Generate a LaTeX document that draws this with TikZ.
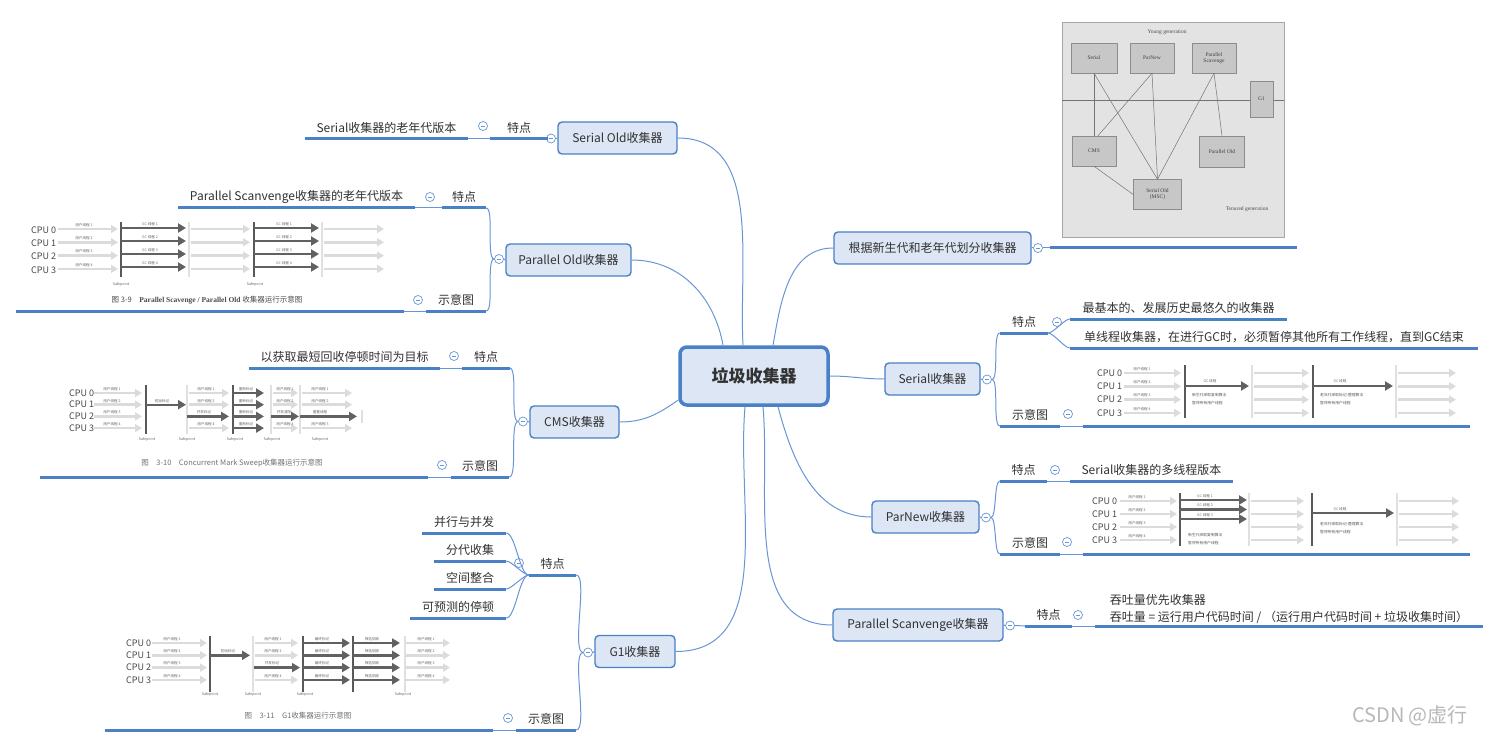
\documentclass[tikz,border=0pt]{standalone}
\usepackage{fontspec}
\usepackage{xcolor}
\usepackage{tikz}
\usetikzlibrary{arrows.meta, positioning, calc}
\setmainfont{Noto Sans CJK SC}
\newfontfamily\diaserif{Liberation Serif}
\definecolor{mapblue}{RGB}{74, 128, 197}
\definecolor{linkblue}{RGB}{104, 150, 212}
\definecolor{boxfill}{RGB}{220, 230, 244}
\definecolor{textgray}{RGB}{50, 50, 50}

\tikzset{
  rootbox/.style={draw=mapblue, line width=3.5pt, fill=boxfill, rounded corners=7pt,
    minimum width=148pt, minimum height=58pt, inner sep=0pt,
    font=\fontsize{17}{17}\selectfont\bfseries, text=textgray},
  collbox/.style={draw=mapblue, line width=1.4pt, fill=boxfill, rounded corners=4pt,
    minimum height=32pt, inner sep=0pt, font=\fontsize{12}{12}\selectfont, text=textgray},
  topic/.style={anchor=south, minimum height=22pt, inner sep=0pt,
    font=\fontsize{12}{12}\selectfont, text=textgray},
  uline/.style={draw=mapblue, line width=3pt},
  mlink/.style={draw=linkblue, line width=1pt},
  fold/.style={circle, draw=linkblue, fill=white, line width=.7pt, minimum size=9pt, inner sep=0pt,
    path picture={\draw[linkblue, line width=.7pt]
      ([xshift=-2.3pt]path picture bounding box.center) -- ([xshift=2.3pt]path picture bounding box.center);}},
  cpu/.style={anchor=west, inner sep=0pt, font=\fontsize{9}{9}\selectfont, text=black!72},
  lbl/.style={inner sep=0pt, font=\fontsize{3.6}{4}\selectfont, text=black!60},
  dnote/.style={anchor=west, inner sep=0pt, font=\fontsize{3.8}{4}\selectfont, text=black!65},
  capt/.style={inner sep=0pt, font=\fontsize{7.5}{8}\selectfont, text=black!55},
  uarr/.style={draw=black!14, line width=2.6pt, -{Triangle[length=7pt, width=8pt]}},
  garr/.style={draw=black!62, line width=2.4pt, -{Triangle[length=8pt, width=9pt]}},
  dbar/.style={draw=black!65, line width=2.6pt},
  lbar/.style={draw=black!12, line width=2.6pt},
  gbox/.style={draw=black!45, fill=black!22, line width=.5pt, inner sep=0pt, align=center,
    font=\diaserif\fontsize{5.5}{6}\selectfont, text=black!75},
}

\begin{document}
\begin{tikzpicture}[x=1pt, y=-1pt]
  \path[use as bounding box, fill=white] (0,0) rectangle (1500,746);

  % 中心主题
  \node[rootbox] (root) at (754,376) {垃圾收集器};

  % 一级主题
  \node[collbox, minimum width=119pt] (sold)   at (617.5,138) {Serial Old收集器};
  \node[collbox, minimum width=125pt] (pold)   at (568.5,260) {Parallel Old收集器};
  \node[collbox, minimum width=89pt]  (cms)    at (574.5,422) {CMS收集器};
  \node[collbox, minimum width=80pt]  (g1)     at (635,651.5) {G1收集器};
  \node[collbox, minimum width=197pt] (split)  at (932.5,248) {根据新生代和老年代划分收集器};
  \node[collbox, minimum width=95pt]  (serial) at (932.5,379) {Serial收集器};
  \node[collbox, minimum width=107pt] (parnew) at (925.5,517) {ParNew收集器};
  \node[collbox, minimum width=170pt] (ps)     at (918,625) {Parallel Scanvenge收集器};

  \draw[mlink] (sold.east) to[out=0, in=93] ([xshift=-11pt]root.north);
  \draw[mlink] (pold.east) to[out=0, in=100] ([xshift=-31pt]root.north);
  \draw[mlink] (cms.east) to[out=0, in=215] ([yshift=-24pt]root.west);
  \draw[mlink] (g1.east) to[out=0, in=-95] ([xshift=-9pt]root.south);
  \draw[mlink] (split.west) to[out=180, in=80] ([xshift=19pt]root.north);
  \draw[mlink] (root.east) to[out=0, in=180] (serial.west);
  \draw[mlink] ([xshift=24pt]root.south) to[out=-75, in=180] (parnew.west);
  \draw[mlink] ([xshift=9pt]root.south) to[out=-85, in=180] (ps.west);

  % Serial Old
  \node[fold] (sold-c) at (551,138.5) {};
  \node[topic, minimum width=58pt]  (sold-f)  at (519,139) {特点};
  \node[fold] (sold-fc) at (483,126) {};
  \node[topic, minimum width=163pt] (sold-f1) at (386.5,139) {Serial收集器的老年代版本};
  \draw[mlink] (sold.west) -- (sold-c.east);
  \draw[mlink] (sold-c.west) -- (sold-f.south east);
  \draw[mlink] (sold-f.south west) -- (sold-f1.south east);

  % Parallel Old
  \node[fold] (pold-c) at (499,259) {};
  \node[topic, minimum width=44pt]  (pold-f)  at (464,208) {特点};
  \node[fold] (pold-fc) at (430,197) {};
  \node[topic, minimum width=237pt] (pold-f1) at (296.5,208) {Parallel Scanvenge收集器的老年代版本};
  \node[topic, minimum width=60pt]  (pold-d)  at (456,311) {示意图};
  \node[fold] (pold-dc) at (418,300) {};
  \node[topic, minimum width=388pt, minimum height=92pt] (pold-img) at (210,311) {};
  \draw[mlink] (pold.west) -- (pold-c.east);
  \draw[mlink] (pold-c.west) to[out=180, in=0, looseness=.4] (pold-f.south east);
  \draw[mlink] (pold-c.west) to[out=180, in=0, looseness=.4] (pold-d.south east);
  \draw[mlink] (pold-f.south west) -- (pold-f1.south east);
  \draw[mlink] (pold-d.south west) -- (pold-img.south east);

  % CMS
  \node[fold] (cms-c) at (523,421.5) {};
  \node[topic, minimum width=47pt]  (cms-f)  at (486,368) {特点};
  \node[fold] (cms-fc) at (454,356) {};
  \node[topic, minimum width=191pt] (cms-f1) at (344.5,368) {以获取最短回收停顿时间为目标};
  \node[topic, minimum width=58pt]  (cms-d)  at (480,477) {示意图};
  \node[fold] (cms-dc) at (442,465) {};
  \node[topic, minimum width=388pt, minimum height=92pt] (cms-img) at (234,477) {};
  \draw[mlink] (cms.west) -- (cms-c.east);
  \draw[mlink] (cms-c.west) to[out=180, in=0, looseness=.4] (cms-f.south east);
  \draw[mlink] (cms-c.west) to[out=180, in=0, looseness=.4] (cms-d.south east);
  \draw[mlink] (cms-f.south west) -- (cms-f1.south east);
  \draw[mlink] (cms-d.south west) -- (cms-img.south east);

  % G1
  \node[fold] (g1-c) at (588,652.5) {};
  \node[topic, minimum width=47pt] (g1-f)  at (552.5,575) {特点};
  \node[fold] (g1-fc) at (519,563) {};
  \node[topic, minimum width=84pt] (g1-f1) at (464,533) {并行与并发};
  \node[topic, minimum width=72pt] (g1-f2) at (470,561) {分代收集};
  \node[topic, minimum width=72pt] (g1-f3) at (470,589) {空间整合};
  \node[topic, minimum width=96pt] (g1-f4) at (458,618) {可预测的停顿};
  \node[topic, minimum width=60pt] (g1-d)  at (546,730) {示意图};
  \node[fold] (g1-dc) at (508,718) {};
  \node[topic, minimum width=388pt, minimum height=105pt] (g1-img) at (299,730) {};
  \draw[mlink] (g1.west) -- (g1-c.east);
  \draw[mlink] (g1-c.west) to[out=180, in=0, looseness=.4] (g1-f.south east);
  \draw[mlink] (g1-c.west) to[out=180, in=0, looseness=.4] (g1-d.south east);
  \foreach \k in {1,...,4}
    \draw[mlink] (g1-f.south west) to[out=180, in=0, looseness=.5] (g1-f\k.south east);
  \draw[mlink] (g1-d.south west) -- (g1-img.south east);

  % 根据新生代和老年代划分
  \node[fold] (split-c) at (1038,248) {};
  \node[topic, minimum width=247pt, minimum height=230pt] (split-img) at (1173.5,248) {};
  \draw[mlink] (split.east) -- (split-c.west);
  \draw[mlink] (split-c.east) -- (split-img.south west);

  % Serial
  \node[fold] (serial-c) at (987,379.5) {};
  \node[topic, minimum width=48pt]  (serial-f)  at (1024,333) {特点};
  \node[fold] (serial-fc) at (1057,322) {};
  \node[topic, minimum width=217pt] (serial-f1) at (1178.5,319) {最基本的、发展历史最悠久的收集器};
  \node[topic, minimum width=408pt] (serial-f2) at (1274,348) {单线程收集器，在进行GC时，必须暂停其他所有工作线程，直到GC结束};
  \node[topic, minimum width=60pt]  (serial-d)  at (1030,426) {示意图};
  \node[fold] (serial-dc) at (1068,414) {};
  \node[topic, minimum width=387pt, minimum height=64pt] (serial-img) at (1276.5,426) {};
  \draw[mlink] (serial.east) -- (serial-c.west);
  \draw[mlink] (serial-c.east) to[out=0, in=180, looseness=.4] (serial-f.south west);
  \draw[mlink] (serial-c.east) to[out=0, in=180, looseness=.4] (serial-d.south west);
  \draw[mlink] (serial-f.south east) to[out=0, in=180, looseness=.5] (serial-f1.south west);
  \draw[mlink] (serial-f.south east) to[out=0, in=180, looseness=.5] (serial-f2.south west);
  \draw[mlink] (serial-d.south east) -- (serial-img.south west);

  % ParNew
  \node[fold] (parnew-c) at (986,517.5) {};
  \node[topic, minimum width=47pt]  (parnew-f)  at (1023.5,481) {特点};
  \node[fold] (parnew-fc) at (1055,470) {};
  \node[topic, minimum width=163pt] (parnew-f1) at (1151.5,481) {Serial收集器的多线程版本};
  \node[topic, minimum width=60pt]  (parnew-d)  at (1030,554) {示意图};
  \node[fold] (parnew-dc) at (1067,542) {};
  \node[topic, minimum width=387pt, minimum height=64pt] (parnew-img) at (1276.5,554) {};
  \draw[mlink] (parnew.east) -- (parnew-c.west);
  \draw[mlink] (parnew-c.east) to[out=0, in=180, looseness=.4] (parnew-f.south west);
  \draw[mlink] (parnew-c.east) to[out=0, in=180, looseness=.4] (parnew-d.south west);
  \draw[mlink] (parnew-f.south east) -- (parnew-f1.south west);
  \draw[mlink] (parnew-d.south east) -- (parnew-img.south west);

  % Parallel Scanvenge
  \node[fold] (ps-c) at (1010,625.5) {};
  \node[topic, minimum width=47pt] (ps-f) at (1048.5,626) {特点};
  \node[fold] (ps-fc) at (1078,615) {};
  \node[topic, minimum width=388pt, align=left, inner ysep=2pt, font=\fontsize{12}{17}\selectfont] (ps-f1) at (1289,626)
    {吞吐量优先收集器\\吞吐量 = 运行用户代码时间 / （运行用户代码时间 + 垃圾收集时间）};
  \draw[mlink] (ps.east) -- (ps-c.west);
  \draw[mlink] (ps-c.east) -- (ps-f.south west);
  \draw[mlink] (ps-f.south east) -- (ps-f1.south west);

  % 下划线
  \foreach \t in {sold-f, sold-f1, pold-f, pold-f1, pold-d, pold-img, cms-f, cms-f1, cms-d, cms-img,
                  g1-f, g1-f1, g1-f2, g1-f3, g1-f4, g1-d, g1-img, split-img, serial-f, serial-f1,
                  serial-f2, serial-d, serial-img, parnew-f, parnew-f1, parnew-d, parnew-img, ps-f, ps-f1}
    \draw[uline] (\t.south west) -- (\t.south east);

  % 示意图: Parallel Scavenge / Parallel Old
  \foreach \i/\v in {0/1, 1/2, 2/3, 3/4} {
    \node[cpu] (po-cpu\i) at (31,230+13.3*\i) {CPU \i};
    \draw[uarr] (58,229+13.3*\i) -- (118,229+13.3*\i);
    \draw[uarr] (191,229+13.3*\i) -- (250,229+13.3*\i);
    \draw[uarr] (324,229+13.3*\i) -- (384,229+13.3*\i);
    \node[lbl] (po-u\i) at (84,225+13.3*\i) {用户线程 \v};
  }
  \foreach \x in {121, 254} \draw[dbar] (\x,222) -- (\x,277);
  \foreach \x in {189, 322} \draw[lbar] (\x,222) -- (\x,277);
  \foreach \i/\v in {0/1, 1/2, 2/3, 3/4} {
    \draw[garr] (121,228+13*\i) -- (186,228+13*\i);
    \draw[garr] (254,228+13*\i) -- (319,228+13*\i);
    \node[lbl] (po-g\i) at (150,224+13*\i) {GC 线程 \v};
    \node[lbl] (po-h\i) at (284,224+13*\i) {GC 线程 \v};
  }
  \node[lbl] (po-s1) at (121,284) {Safepoint};
  \node[lbl] (po-s2) at (255,284) {Safepoint};
  \node[capt, text=black!70] (po-cap) at (207,300) {图 3-9\quad{\diaserif\bfseries Parallel Scavenge / Parallel Old} 收集器运行示意图};

  % 示意图: Concurrent Mark Sweep
  \foreach \i/\v in {0/1, 1/2, 2/3, 3/4} {
    \node[cpu] (cm-cpu\i) at (69,393+11.7*\i) {CPU \i};
    \draw[uarr] (94,393+11.7*\i) -- (142,393+11.7*\i);
    \node[lbl] (cm-u\i) at (112,389+11.7*\i) {用户线程 \v};
  }
  \foreach \i/\v in {0/1, 1/2, 3/4} {
    \draw[uarr] (189,393+11.7*\i) -- (229,393+11.7*\i);
    \draw[uarr] (273,393+11.7*\i) -- (298,393+11.7*\i);
    \node[lbl] (cm-a\i) at (206,389+11.7*\i) {用户线程 \v};
    \node[lbl] (cm-b\i) at (285,389+11.7*\i) {用户线程 \v};
  }
  \foreach \i/\v in {0/1, 1/2, 3/3} {
    \draw[uarr] (302,393+11.7*\i) -- (352,393+11.7*\i);
    \node[lbl] (cm-c\i) at (320,389+11.7*\i) {用户线程 \v};
  }
  \foreach \x in {146, 233} \draw[dbar] (\x,385) -- (\x,434);
  \foreach \x in {187, 271, 300} \draw[lbar] (\x,385) -- (\x,434);
  \draw[lbar] (362,410) -- (362,423);
  \draw[garr] (146,404.7) -- (186,404.7);
  \node[lbl] (cm-init) at (162,400.7) {初始标记};
  \draw[garr] (187,416.4) -- (229,416.4);
  \node[lbl] (cm-conc) at (204,412.4) {并发标记};
  \foreach \i in {0,...,3} {
    \draw[garr] (233,393+11.7*\i) -- (264,393+11.7*\i);
    \node[lbl] (cm-re\i) at (246,389+11.7*\i) {重新标记};
  }
  \draw[garr] (271,416.4) -- (299,416.4);
  \node[lbl] (cm-sweep) at (284,412.4) {并发清除};
  \draw[garr] (300,416.4) -- (357,416.4);
  \node[lbl] (cm-reset) at (320,412.4) {重置线程};
  \foreach \x [count=\k] in {147, 187, 235, 272, 320}
    \node[lbl] (cm-s\k) at (\x,439) {Safepoint};
  \node[capt] (cm-cap) at (232,463) {图\quad 3-10\quad Concurrent Mark Sweep收集器运行示意图};

  % 示意图: G1
  \foreach \i/\v in {0/1, 1/2, 2/3, 3/4} {
    \node[cpu] (g-cpu\i) at (126,643+12.3*\i) {CPU \i};
    \draw[uarr] (152,643+12.3*\i) -- (207,643+12.3*\i);
    \draw[uarr] (406,643+12.3*\i) -- (450,643+12.3*\i);
    \node[lbl] (g-u\i) at (172,639+12.3*\i) {用户线程 \v};
    \node[lbl] (g-w\i) at (426,639+12.3*\i) {用户线程 \v};
  }
  \foreach \i/\v in {0/1, 1/2, 3/4} {
    \draw[uarr] (255,643+12.3*\i) -- (298,643+12.3*\i);
    \node[lbl] (g-a\i) at (273,639+12.3*\i) {用户线程 \v};
  }
  \foreach \x in {210, 303, 353} \draw[dbar] (\x,636) -- (\x,692);
  \foreach \x in {253, 405} \draw[lbar] (\x,636) -- (\x,692);
  \draw[garr] (210,655.3) -- (250,655.3);
  \node[lbl] (g-init) at (228,651.3) {初始标记};
  \draw[garr] (254,667.6) -- (300,667.6);
  \node[lbl] (g-conc) at (272,663.6) {并发标记};
  \foreach \i in {0,...,3} {
    \draw[garr] (303,643+12.3*\i) -- (350,643+12.3*\i);
    \draw[garr] (353,643+12.3*\i) -- (400,643+12.3*\i);
    \node[lbl] (g-fin\i) at (322,639+12.3*\i) {最终标记};
    \node[lbl] (g-evac\i) at (372,639+12.3*\i) {筛选回收};
  }
  \foreach \x [count=\k] in {210, 253, 305, 403}
    \node[lbl] (g-s\k) at (\x,694) {Safepoint};
  \node[capt] (g-cap) at (298,716) {图\quad 3-11\quad G1收集器运行示意图};

  % 示意图: Serial / Serial Old
  \foreach \i/\v in {0/1, 1/2, 2/3, 3/4} {
    \node[cpu] (s-cpu\i) at (1097,373+13.3*\i) {CPU \i};
    \draw[uarr] (1124,373+13.3*\i) -- (1181,373+13.3*\i);
    \draw[uarr] (1254,373+13.3*\i) -- (1309,373+13.3*\i);
    \draw[uarr] (1398,373+13.3*\i) -- (1456,373+13.3*\i);
    \node[lbl] (s-u\i) at (1142,369+13.3*\i) {用户线程 \v};
  }
  \foreach \x in {1185, 1313} \draw[dbar] (\x,365) -- (\x,418);
  \foreach \x in {1252, 1396} \draw[lbar] (\x,365) -- (\x,418);
  \draw[garr] (1185,386) -- (1249,386);
  \draw[garr] (1313,386) -- (1393,386);
  \node[lbl] (s-gc1) at (1210,381) {GC 线程};
  \node[lbl] (s-gc2) at (1340,381) {GC 线程};
  \node[dnote] (s-n1) at (1192,395) {新生代采取复制算法};
  \node[dnote] (s-n2) at (1192,403) {暂停所有用户线程};
  \node[dnote] (s-n3) at (1320,395) {老年代采取标记-整理算法};
  \node[dnote] (s-n4) at (1320,403) {暂停所有用户线程};

  % 示意图: ParNew / Serial Old
  \foreach \i/\v in {0/1, 1/2, 2/3, 3/4} {
    \node[cpu] (p-cpu\i) at (1092,501+13*\i) {CPU \i};
    \draw[uarr] (1120,501+13*\i) -- (1177,501+13*\i);
    \draw[uarr] (1251,501+13*\i) -- (1304,501+13*\i);
    \draw[uarr] (1399,501+13*\i) -- (1459,501+13*\i);
    \node[lbl] (p-u\i) at (1137,497+13*\i) {用户线程 \v};
  }
  \foreach \x in {1180, 1312} \draw[dbar] (\x,493) -- (\x,546);
  \foreach \x in {1249, 1397} \draw[lbar] (\x,493) -- (\x,546);
  \foreach \i/\v in {0/1, 1/2, 2/3} {
    \draw[garr] (1180,500+9.5*\i) -- (1247,500+9.5*\i);
    \node[lbl] (p-gc\i) at (1205,496+9.5*\i) {GC 线程 \v};
  }
  \draw[garr] (1312,513) -- (1394,513);
  \node[lbl] (p-gc) at (1340,509) {GC 线程};
  \node[dnote] (p-n1) at (1188,535) {新生代采取复制算法};
  \node[dnote] (p-n2) at (1188,543) {暂停所有用户线程};
  \node[dnote] (p-n3) at (1320,524) {老年代采取标记-整理算法};
  \node[dnote] (p-n4) at (1320,532) {暂停所有用户线程};

  % 收集器组合
  \node[draw=black!35, fill=black!11, line width=.6pt, minimum width=222pt, minimum height=215pt, inner sep=0pt] (yg) at (1173,129.5) {};
  \draw[black!55, line width=.5pt] (1062,100) -- (1284,100);
  \node[gbox, minimum width=46pt, minimum height=30pt] (yg-ser) at (1094,58) {Serial};
  \node[gbox, minimum width=44pt, minimum height=30pt] (yg-pn)  at (1152,58) {ParNew};
  \node[gbox, minimum width=44pt, minimum height=30pt] (yg-ps)  at (1214,58) {Parallel\\Scavenge};
  \node[gbox, minimum width=23pt, minimum height=36pt] (yg-g1)  at (1261.5,99) {G1};
  \node[gbox, minimum width=44pt, minimum height=30pt] (yg-cms) at (1094,151) {CMS};
  \node[gbox, minimum width=45pt, minimum height=31pt] (yg-po)  at (1222,151.5) {Parallel Old};
  \node[gbox, minimum width=48pt, minimum height=30pt] (yg-so)  at (1157.5,194.5) {Serial Old\\(MSC)};
  \draw[black!55, line width=.5pt] (yg-ser.south) -- (yg-cms.north);
  \draw[black!55, line width=.5pt] (yg-ser.south) -- (yg-so.north);
  \draw[black!55, line width=.5pt] (yg-pn.south) -- ([xshift=4pt]yg-cms.north);
  \draw[black!55, line width=.5pt] (yg-pn.south) -- (yg-so.north);
  \draw[black!55, line width=.5pt] (yg-ps.south) -- (yg-so.north);
  \draw[black!55, line width=.5pt] (yg-ps.south) -- (yg-po.north);
  \draw[black!55, line width=.5pt] (yg-cms.south) -- (yg-so.west);
  \node[inner sep=0pt, font=\diaserif\fontsize{5.5}{6}\selectfont, text=black!70] (yg-young) at (1167,32) {Young generation};
  \node[inner sep=0pt, font=\diaserif\fontsize{5.5}{6}\selectfont, text=black!70] (yg-old) at (1247,209) {Tenured generation};

  % 水印
  \node[inner sep=0pt, font=\fontsize{20}{20}\selectfont, text=black!28] (mark) at (1410,716) {CSDN @虚行};
\end{tikzpicture}
\end{document}
